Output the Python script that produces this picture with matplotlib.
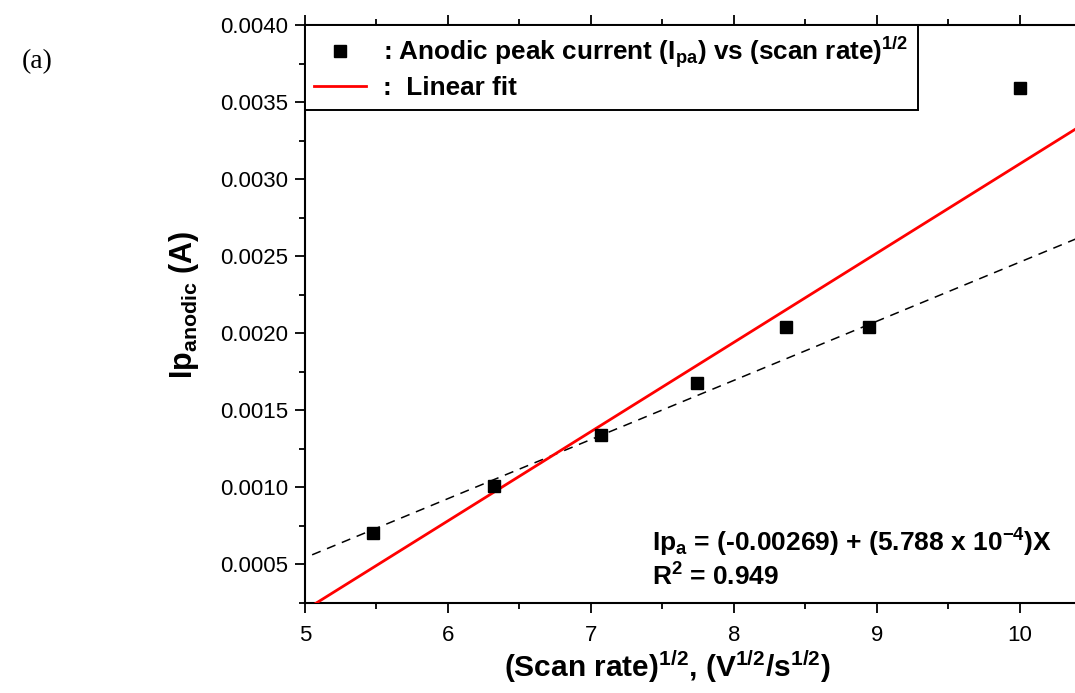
import numpy as np
import matplotlib
matplotlib.use("Agg")
import matplotlib.pyplot as plt
from matplotlib.ticker import MultipleLocator, FormatStrFormatter

plt.rcParams.update({
    "font.family": ["Liberation Sans", "DejaVu Sans"],
    "mathtext.fontset": "custom",
    "mathtext.rm": "Liberation Sans",
    "mathtext.bf": "Liberation Sans:bold",
    "mathtext.it": "Liberation Sans:italic",
})

# sqrt of scan rate (V^1/2 / s^1/2) and anodic peak current (A)
sqrt_scan_rate = np.sqrt([30, 40, 50, 60, 70, 80, 100])
peak_current = [0.000706, 0.001008, 0.001338, 0.001678, 0.002038, 0.002038, 0.003594]

# linear fit coefficients as reported on the plot
fit_intercept = -0.00269
fit_slope = 5.788e-4

# dashed guide line through the low scan-rate points
guide_intercept = -0.001374
guide_slope = 3.835e-4
guide_range = [5.05, 10.4]

x_range = [5.0, 10.4]
y_range = [0.00025, 0.0040]

W, H = 1075, 693
fig = plt.figure(figsize=(W / 100, H / 100), dpi=100)
ax = fig.add_axes([305 / W, 1 - 603 / H, (1076.7 - 305) / W, (603 - 25) / H])

gx = np.array(guide_range)
ax.plot(gx, guide_intercept + guide_slope * gx, color="black", lw=1.1,
        linestyle=(0, (6, 4.5)), zorder=2)

fx = np.linspace(x_range[0], x_range[1], 50)
fit_line, = ax.plot(fx, fit_intercept + fit_slope * fx, color="#ff0000", lw=2.0, zorder=3)

pts, = ax.plot(sqrt_scan_rate, peak_current, "s", color="black", ms=8, zorder=4)

ax.set_xlim(*x_range)
ax.set_ylim(*y_range)

ax.xaxis.set_major_locator(MultipleLocator(1))
ax.xaxis.set_minor_locator(MultipleLocator(0.5))
ax.yaxis.set_major_locator(MultipleLocator(0.0005))
ax.yaxis.set_minor_locator(MultipleLocator(0.00025))
ax.yaxis.set_major_formatter(FormatStrFormatter("%.4f"))

for side in ["left", "bottom", "top"]:
    ax.spines[side].set_linewidth(1.5)
ax.spines["right"].set_visible(False)

ax.tick_params(which="both", direction="out", width=1.3, labelsize=16, top=True,
               labeltop=False)
ax.tick_params(which="major", length=7, pad=5)
ax.tick_params(which="minor", length=4)
ax.xaxis.set_tick_params(which="major", pad=9)

ax.set_xlabel(r"(Scan rate)$^{\mathbf{1/2}}$, (V$^{\mathbf{1/2}}$/s$^{\mathbf{1/2}}$)",
              fontsize=21.5, fontweight="bold")
ax.xaxis.set_label_coords((667 - 305) / (1076.7 - 305), -0.078)
ax.set_ylabel(r"Ip$_{\mathbf{anodic}}$ (A)", fontsize=22, fontweight="bold")
ax.yaxis.set_label_coords(-(305 - 201) / (1076.7 - 305), (603 - 305) / (603 - 25))

leg = ax.legend(
    [pts, fit_line],
    [r": Anodic peak current (I$_{\mathbf{pa}}$) vs (scan rate)$^{\mathbf{1/2}}$",
     ":  Linear fit"],
    loc="upper left", bbox_to_anchor=(0, 1), borderaxespad=0,
    prop={"size": 18.8, "weight": "bold"}, fancybox=False, shadow=False,
    edgecolor="black", framealpha=1, handlelength=2.0, handletextpad=0.65,
    borderpad=0.35, labelspacing=0.25,
)
leg.get_frame().set_linewidth(1.4)

ax.text(652, H - 552, r"Ip$_{\mathbf{a}}$ = (-0.00269) + (5.788 x 10$^{\mathbf{-4}}$)X",
        transform=None, fontsize=19, fontweight="bold", va="baseline", ha="left")
ax.text(652, H - 586, r"R$^{\mathbf{2}}$ = 0.949", fontsize=19, fontweight="bold",
        va="baseline", ha="left", transform=None)

fig.text(22 / W, 1 - 62 / H, "(a)", family=["Liberation Serif", "DejaVu Serif"],
         fontsize=20, va="center", ha="left")

fig.savefig("out.png", dpi=100)
